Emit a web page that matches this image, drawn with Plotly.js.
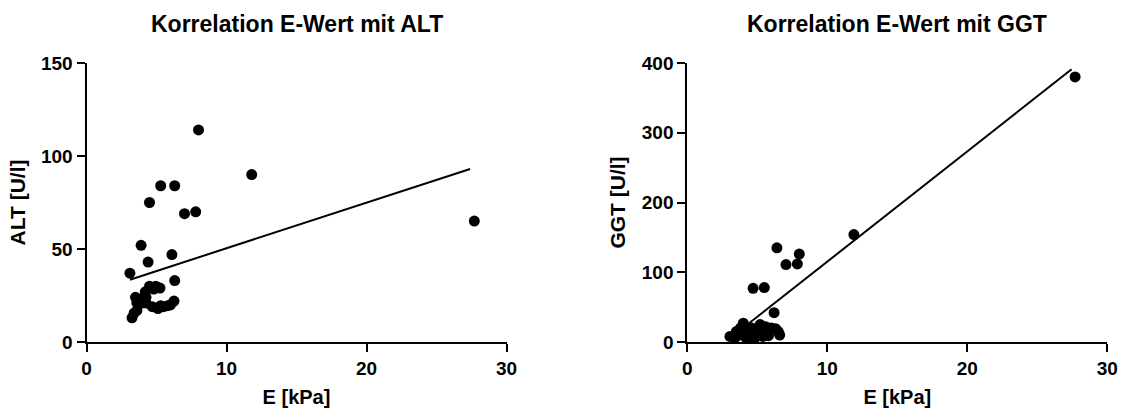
<!DOCTYPE html>
<html>
<head>
<meta charset="utf-8">
<script src="https://cdn.plot.ly/plotly-3.0.1.min.js"></script>
<style>html,body{margin:0;padding:0;background:#fff;}#chart{width:1126px;height:409px;}</style>
</head>
<body>
<div id="chart"></div>
<script>
// ALT panel: E [kPa] vs ALT [U/l]
var altE = [27.7, 11.8, 8.0, 7.0, 7.8, 5.3, 6.3, 4.5, 3.9, 4.4, 6.1, 3.1, 6.3,
            4.5, 4.95, 5.25, 3.5, 3.8, 4.25, 4.25, 4.7, 5.1, 5.5, 6.0, 6.25, 3.6, 3.25,
            4.2, 4.0, 3.4, 5.3, 5.8, 4.8, 3.6];
var altV = [65, 90, 114, 69, 70, 84, 84, 75, 52, 43, 47, 37, 33,
            30, 30, 29, 24, 23, 24, 21, 19, 18, 19, 20, 22, 17, 13,
            27, 21, 15.5, 19.5, 19.5, 28.5, 21];
var altFitE = [3.1, 27.4];
var altFitV = [33.5, 93];

// GGT panel: E [kPa] vs GGT [U/l]
var ggtE = [27.7, 11.9, 6.4, 8.0, 7.05, 7.86, 4.7, 5.5, 6.2, 4.0, 3.05, 3.5, 3.4,
            5.2, 6.0, 6.5, 4.5, 5.4, 4.2, 4.95, 5.7, 3.8,
            3.7, 4.6, 5.0, 5.8, 6.3, 4.3, 3.9, 5.6, 6.6, 4.8];
var ggtV = [380, 154, 135, 126, 111, 112, 77, 78, 42, 27, 8, 15, 6,
            25, 20, 15, 13, 8, 6, 18, 15, 20,
            10, 20, 11, 9, 19, 17, 14, 22, 10, 5];
var ggtFitE = [3.0, 27.45];
var ggtFitV = [4.6, 391];

var titles = ['Korrelation E-Wert mit ALT', 'Korrelation E-Wert mit GGT'];
var xTitle = 'E [kPa]';
var yTitles = ['ALT [U/l]', 'GGT [U/l]'];

var FONT = 'Liberation Sans, Arial, sans-serif';
var mk = {color: '#000', size: 11};

var traces = [
  {x: altE, y: altV, type: 'scatter', mode: 'markers', marker: mk, xaxis: 'x', yaxis: 'y'},
  {x: altFitE, y: altFitV, type: 'scatter', mode: 'lines', line: {color: '#000', width: 2}, xaxis: 'x', yaxis: 'y'},
  {x: ggtE, y: ggtV, type: 'scatter', mode: 'markers', marker: mk, xaxis: 'x2', yaxis: 'y2'},
  {x: ggtFitE, y: ggtFitV, type: 'scatter', mode: 'lines', line: {color: '#000', width: 2}, xaxis: 'x2', yaxis: 'y2'}
];

function xa(domain, anchor) {
  return {
    domain: domain, anchor: anchor, range: [0, 30], dtick: 10, tick0: 0,
    showline: true, linecolor: '#000', linewidth: 2, mirror: false,
    ticks: 'outside', ticklen: 8, tickwidth: 2, tickcolor: '#000',
    showgrid: false, zeroline: false, fixedrange: true,
    tickfont: {family: FONT, size: 19, color: '#000', weight: 'bold'},
    title: {text: xTitle, standoff: 12, font: {family: FONT, size: 20, color: '#000', weight: 'bold'}},
    automargin: false
  };
}
function ya(range, dtick, anchor, title) {
  return {
    domain: [0, 1], anchor: anchor, range: range, dtick: dtick, tick0: 0,
    showline: true, linecolor: '#000', linewidth: 2,
    ticks: 'outside', ticklen: 8, tickwidth: 2, tickcolor: '#000',
    showgrid: false, zeroline: false, fixedrange: true,
    tickfont: {family: FONT, size: 19, color: '#000', weight: 'bold'},
    title: {text: title, standoff: 10, font: {family: FONT, size: 21, color: '#000', weight: 'bold'}},
    automargin: false
  };
}

var dom1 = [86.5 / 1126, 506.5 / 1126];
var dom2 = [687.3 / 1126, 1107.3 / 1126];

var layout = {
  width: 1126, height: 409,
  margin: {l: 0, r: 0, t: 63, b: 67},
  paper_bgcolor: '#fff', plot_bgcolor: '#fff',
  showlegend: false,
  font: {family: FONT, color: '#000'},
  xaxis: xa(dom1, 'y'),
  yaxis: ya([0, 150], 50, 'x', yTitles[0]),
  xaxis2: xa(dom2, 'y2'),
  yaxis2: ya([0, 400], 100, 'x2', yTitles[1]),
  annotations: [
    {text: titles[0], xref: 'paper', yref: 'paper', x: (dom1[0] + dom1[1]) / 2, y: 1.141,
     xanchor: 'center', yanchor: 'middle', showarrow: false,
     font: {family: FONT, size: 23, color: '#000', weight: 'bold'}},
    {text: titles[1], xref: 'paper', yref: 'paper', x: (dom2[0] + dom2[1]) / 2, y: 1.141,
     xanchor: 'center', yanchor: 'middle', showarrow: false,
     font: {family: FONT, size: 23, color: '#000', weight: 'bold'}}
  ]
};

Plotly.newPlot('chart', traces, layout, {displayModeBar: false, staticPlot: true});
</script>
</body>
</html>
